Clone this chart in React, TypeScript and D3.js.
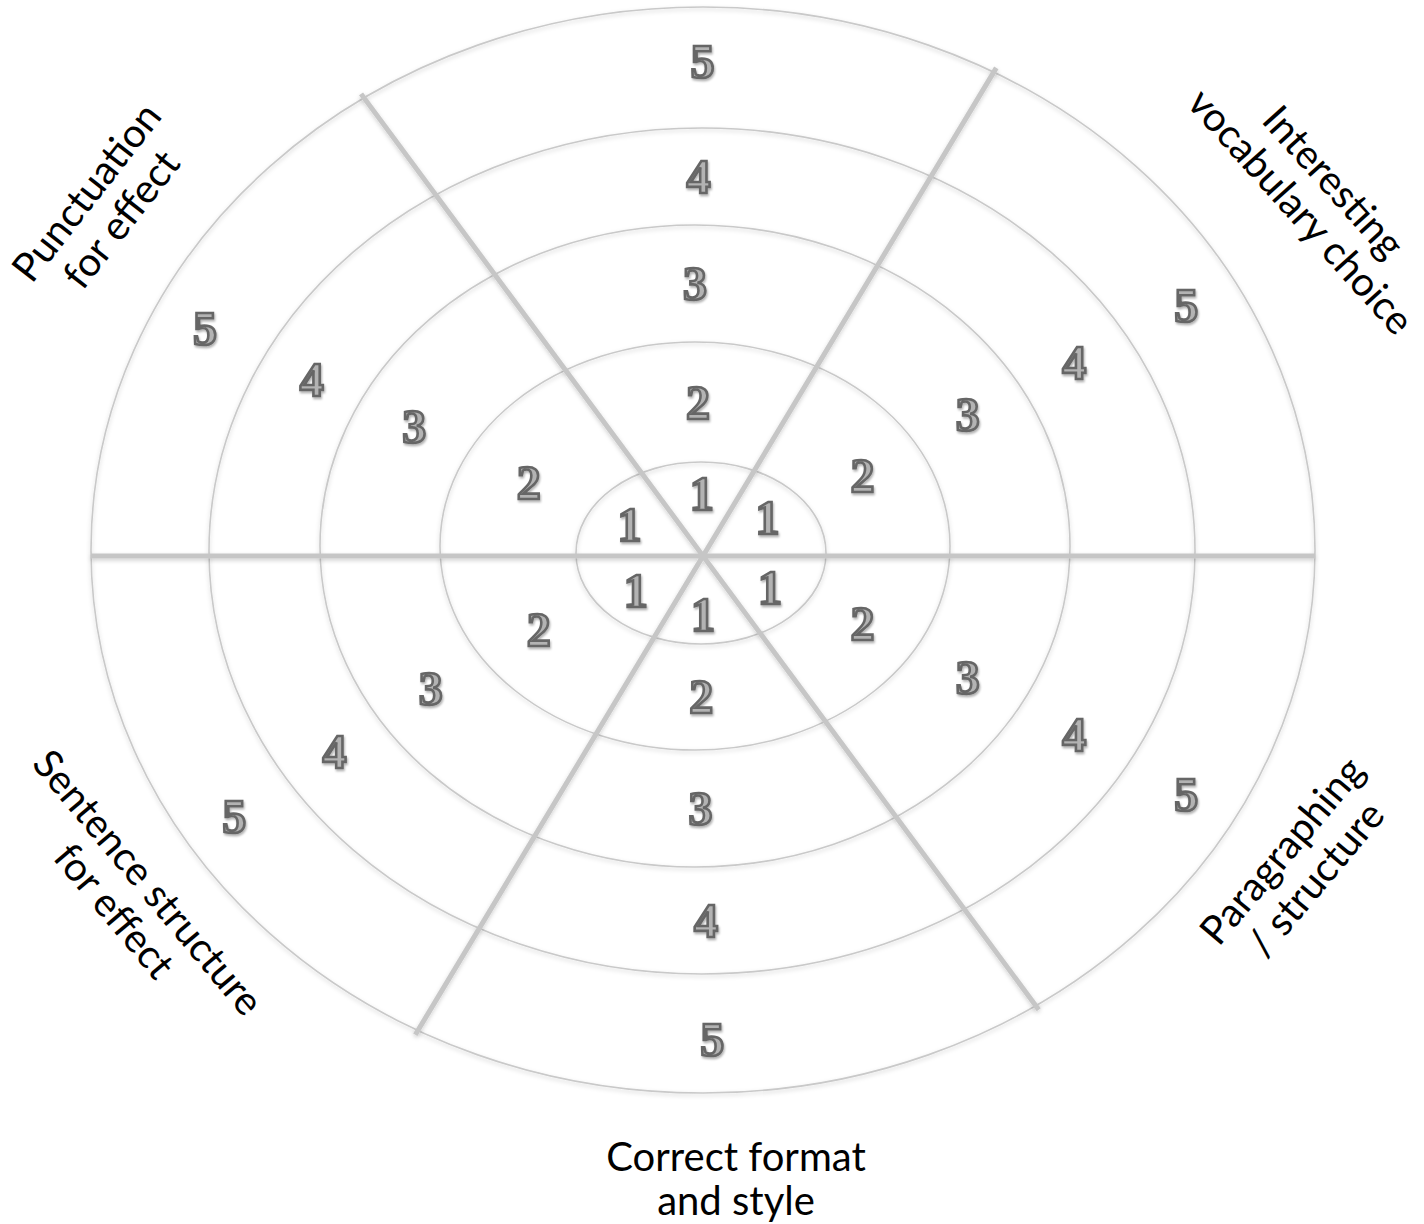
import * as d3 from 'd3';
import React from 'react';

// sectors, counter-clockwise starting from the upper right
const categories = [
  'Interesting vocabulary choice',
  '',
  'Punctuation for effect',
  'Sentence structure for effect',
  'Correct format and style',
  'Paragraphing / structure',
];
const labelLines = [
  ['Interesting', 'vocabulary choice'],
  [],
  ['Punctuation', 'for effect'],
  ['Sentence structure', 'for effect'],
  ['Correct format', 'and style'],
  ['Paragraphing', '/ structure'],
];
const levels = [1, 2, 3, 4, 5];

const W = 1424;
const H = 1224;
const hubX = 703;
const hubY = 556;

const DigitFont = '"Liberation Serif", "DejaVu Serif", serif';
const LabelFont = 'Lato, "Open Sans", sans-serif';

const App: React.FC = () => {
  // ring geometry by level (the rings are slightly off-centre ellipses)
  const ringRx = d3.scaleLinear().domain([0, 1, 2, 3, 4, 5]).range([0, 125, 255, 375, 493, 612]);
  const ringRy = d3.scaleLinear().domain([0, 1, 2, 3, 4, 5]).range([0, 91, 204, 321, 423, 543]);
  const ringCx = d3.scaleLinear().domain([0, 1, 2, 3, 4, 5]).range([703, 701, 695, 695, 702, 703]);
  const ringCy = d3.scaleLinear().domain([0, 1, 2, 3, 4, 5]).range([556, 553, 546, 546, 551, 550]);

  // angle (deg) at which each sector's numbers sit
  const sectorAngle = d3.scaleOrdinal<string, number>()
    .domain(categories)
    .range([30, 90, 153, 213, 271, 330]);
  const innerAngle = d3.scaleOrdinal<string, number>()
    .domain(categories)
    .range([37, 90, 151, 217, 271, 326]);
  // where in the band between ring l-1 and ring l the number sits
  const bandPos = d3.scaleOrdinal<number, number>().domain(levels).range([0.66, 0.5, 0.5, 0.5, 0.55]);

  // spokes: three lines through the hub
  const spokeAngles = [0, 59, 126.5];

  const oRx = ringRx(5);
  const oRy = ringRy(5);
  const oCx = ringCx(5);
  const oCy = ringCy(5);
  const hitOuter = (deg: number, ext: number) => {
    const a = (deg * Math.PI) / 180;
    const dx = Math.cos(a);
    const dy = -Math.sin(a);
    const px = hubX - oCx;
    const py = hubY - oCy;
    const A = (dx * dx) / (oRx * oRx) + (dy * dy) / (oRy * oRy);
    const B = 2 * ((px * dx) / (oRx * oRx) + (py * dy) / (oRy * oRy));
    const C = (px * px) / (oRx * oRx) + (py * py) / (oRy * oRy) - 1;
    const t = (-B + Math.sqrt(B * B - 4 * A * C)) / (2 * A) + ext;
    return [hubX + dx * t, hubY + dy * t];
  };

  const cells = categories.flatMap(c => levels.map(l => ({ c, l })));
  const cellPos = (c: string, l: number) => {
    const t = l - 1 + bandPos(l);
    const deg = l === 1 ? innerAngle(c) : sectorAngle(c);
    const a = (deg * Math.PI) / 180;
    return [ringCx(t) + ringRx(t) * Math.cos(a), ringCy(t) - ringRy(t) * Math.sin(a)];
  };

  // label placement (centre of the text block, rotation)
  const labelPlace = [
    { x: 1318, y: 196, rot: 48 },
    { x: 0, y: 0, rot: 0 },
    { x: 103, y: 205, rot: -52 },
    { x: 132, y: 896, rot: 50 },
    { x: 736, y: 1178, rot: 0 },
    { x: 1298, y: 864, rot: -50 },
  ];
  const lineH = 44;

  return (
    <svg width={W} height={H} style={{ position: 'absolute', left: 0, top: 0, background: '#fff' }}>
      <defs>
        <filter id="soft" x="-10%" y="-10%" width="120%" height="120%">
          <feDropShadow dx="0" dy="2" stdDeviation="2" floodColor="#000" floodOpacity="0.18" />
        </filter>
        <filter id="digitShadow" x="-30%" y="-30%" width="160%" height="160%">
          <feDropShadow dx="1" dy="2" stdDeviation="1.2" floodColor="#000" floodOpacity="0.3" />
        </filter>
      </defs>

      <g filter="url(#soft)">
        {levels.slice().reverse().map(l => (
          <ellipse key={l} cx={ringCx(l)} cy={ringCy(l)} rx={ringRx(l)} ry={ringRy(l)}
            fill="none" stroke="#c9c9c9" strokeWidth={1.6} />
        ))}
      </g>

      <g filter="url(#soft)">
        {spokeAngles.map(a => {
          const [x1, y1] = hitOuter(a, a === 0 ? 0 : 5);
          const [x2, y2] = hitOuter(a + 180, a === 0 ? 0 : 5);
          return <line key={a} x1={x1} y1={y1} x2={x2} y2={y2} stroke="#c6c6c6" strokeWidth={5} />;
        })}
      </g>

      <g filter="url(#digitShadow)">
        {cells.map(({ c, l }) => {
          const [x, y] = cellPos(c, l);
          return (
            <text key={c + l} x={x} y={y} textAnchor="middle" dominantBaseline="central"
              fontFamily={DigitFont} fontWeight="bold" fontSize={48}
              fill="#b3b3b3" stroke="#666" strokeWidth={2.6}>
              {l}
            </text>
          );
        })}
      </g>

      {categories.map((c, i) => {
        const p = labelPlace[i];
        const lines = labelLines[i];
        if (!lines.length) return null;
        return (
          <g key={c} transform={`translate(${p.x},${p.y}) rotate(${p.rot})`}>
            {lines.map((s, j) => (
              <text key={j} x={0} y={(j - (lines.length - 1) / 2) * lineH}
                textAnchor="middle" dominantBaseline="central"
                fontFamily={LabelFont} fontSize={40} fill="#000">
                {s}
              </text>
            ))}
          </g>
        );
      })}
    </svg>
  );
};

export default App;
